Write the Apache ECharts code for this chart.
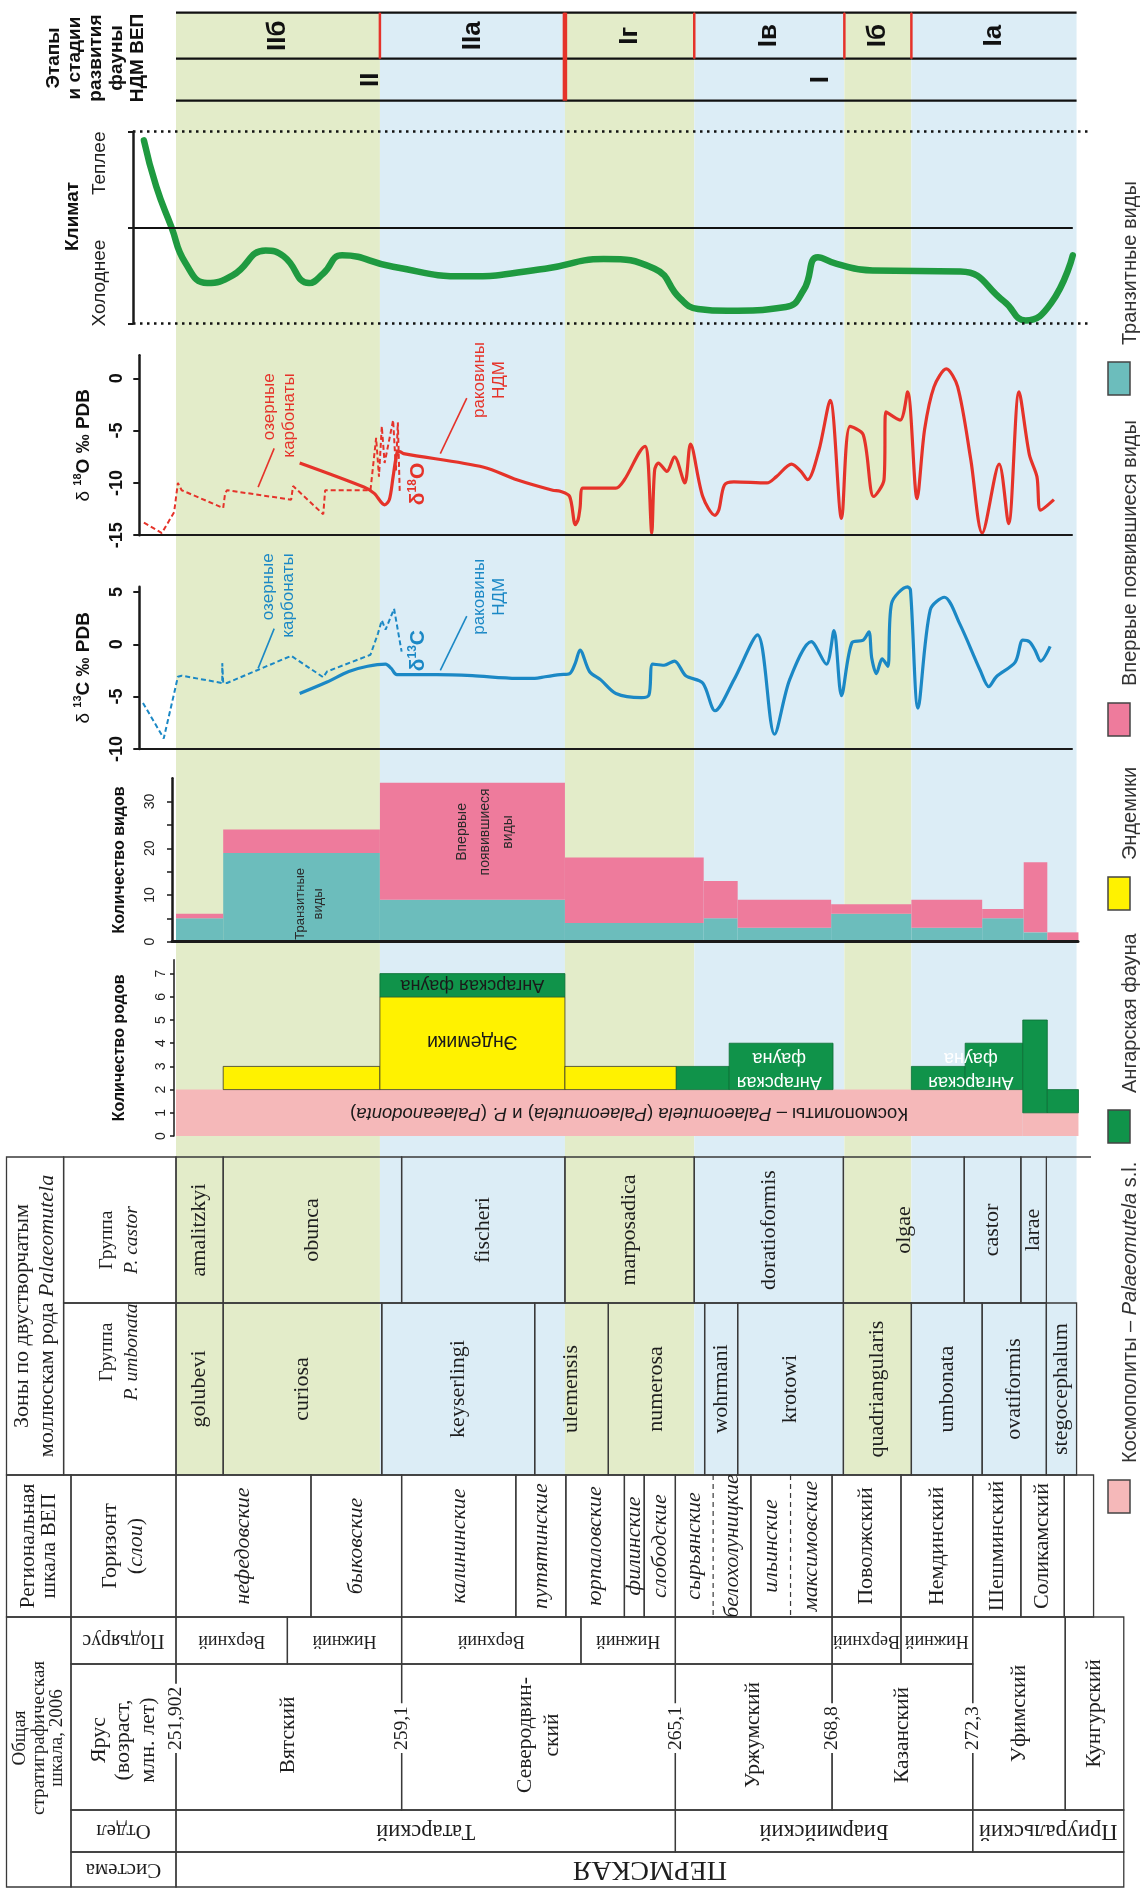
<!DOCTYPE html>
<html lang="ru">
<head>
<meta charset="utf-8">
<title>Этапы развития фауны НДМ ВЕП</title>
<script src="https://cdn.jsdelivr.net/npm/echarts@6.0.0/dist/echarts.min.js"></script>
<style>
  html, body { margin: 0; padding: 0; background: #fff; }
  #chart { width: 1140px; height: 1895px; }
</style>
</head>
<body>
<div id="chart"></div>
<script>
// ================= DATA =================
// Positions along the section are relative units: 0 = top of the Vyatkian (251,902 Ma),
// the stratigraphic scale runs down to ~100 (Kungurian).

// Stages of development of the NDM fauna
const phaseStageNames = ['IIб', 'IIа', 'Iг', 'Iв', 'Iб', 'Iа'];
const phaseStageBounds = [0, 21.6, 41.2, 54.9, 70.8, 77.9, 95.4];
const phaseNames = ['II', 'I'];
const phaseBounds = [0, 41.2, 95.4];

// Climate: [position, relative temperature: -1 colder … 1 warmer]
const climateCurve = [
  [-3.4, 0.91], [-2.1, 0.43], [-0.5, 0.01], [1.0, -0.37], [3.3, -0.58], [6.0, -0.50],
  [9.5, -0.24], [11.4, -0.30], [14.1, -0.58], [15.6, -0.48], [17.6, -0.29], [23.0, -0.41],
  [30.7, -0.51], [39.1, -0.43], [45.3, -0.33], [50.7, -0.43], [53.4, -0.74], [55.3, -0.85],
  [58.4, -0.87], [64.6, -0.83], [66.5, -0.65], [68.0, -0.31], [70.0, -0.38], [73.8, -0.45],
  [83.1, -0.46], [87.7, -0.77], [90.0, -0.97], [92.7, -0.79], [95.0, -0.29]
];

// δ18O ‰ PDB
const d18O_shells = [
  [13.1, -8.1], [19.9, -10.4], [21.0, -11.0], [22.1, -12.1], [22.6, -11.6], [23.0, -9.4],
  [23.4, -7.2], [23.7, -7.0], [24.1, -7.2], [32.6, -8.5], [36.1, -9.7], [39.9, -10.7],
  [40.7, -10.8], [41.7, -11.3], [42.3, -14.0], [42.6, -13.5], [42.8, -12.4], [43.1, -10.5],
  [46.6, -10.5], [47.5, -9.7], [49.7, -6.5], [50.0, -7.8], [50.4, -14.8], [50.7, -8.8],
  [51.1, -8.1], [52.0, -8.9], [52.8, -7.5], [53.9, -10.0], [54.5, -6.3], [55.8, -11.3],
  [57.1, -13.1], [57.5, -12.6], [58.1, -10.2], [59.1, -9.9], [62.6, -10.0], [63.6, -9.4],
  [65.2, -8.2], [66.2, -8.9], [66.9, -9.7], [68.1, -6.9], [69.3, -2.1], [70.5, -13.4],
  [71.4, -4.6], [72.8, -5.4], [73.9, -11.3], [75.0, -9.7], [75.2, -3.2], [76.7, -4.0],
  [77.5, -1.3], [78.5, -11.5], [79.3, -4.9], [80.3, -0.8], [81.6, 0.9], [82.8, -0.8],
  [84.2, -7.8], [85.4, -14.8], [87.2, -8.2], [88.2, -13.9], [89.3, -1.3], [90.4, -7.3],
  [91.2, -9.4], [91.6, -12.6], [93.0, -11.6]
];
const d18O_lake = [
  [-3.4, -13.8], [-1.5, -14.8], [-0.2, -12.8], [0.2, -10.0], [0.6, -10.7], [5.0, -12.4],
  [5.2, -11.0], [5.4, -10.7], [12.2, -11.6], [12.4, -10.3], [15.6, -13.0], [15.8, -10.7],
  [20.6, -10.7], [21.2, -5.7], [21.5, -9.4], [21.8, -4.6], [22.1, -8.1], [23.0, -4.0],
  [23.3, -8.8], [23.5, -4.2], [23.7, -10.8]
];

// δ13C ‰ PDB
const d13C_shells = [
  [13.1, -4.7], [16.0, -3.6], [18.3, -2.6], [20.3, -2.1], [22.2, -1.9], [22.8, -2.3],
  [23.4, -2.9], [27.6, -2.9], [31.4, -3.0], [36.1, -3.25], [38.0, -3.25], [39.1, -3.1],
  [40.7, -2.9], [41.7, -2.8], [42.3, -1.8], [42.8, -0.55], [43.8, -2.6], [45.0, -3.4],
  [46.6, -4.7], [49.3, -5.1], [50.1, -4.85], [50.5, -1.9], [51.7, -2.0], [52.8, -1.6],
  [54.0, -3.0], [55.8, -3.7], [57.1, -6.35], [59.1, -3.4], [61.6, 0.9], [63.4, -8.6],
  [65.0, -3.4], [67.3, 0.25], [68.9, -1.9], [69.7, 1.3], [70.5, -4.9], [71.6, 0.15],
  [72.8, 0.4], [73.4, 1.2], [73.7, -1.3], [74.2, -2.8], [74.8, -1.4], [75.4, -2.1],
  [75.8, 3.9], [77.5, 5.5], [77.8, 5.2], [78.6, -6.1], [79.9, 3.3], [81.4, 4.5],
  [83.0, 2.0], [85.2, -2.5], [86.1, -4.05], [86.9, -3.1], [88.9, -1.7], [89.7, 0.4],
  [90.4, 0.25], [91.0, -0.55], [91.6, -1.6], [92.6, -0.2]
];
const d13C_lake = [
  [-3.5, -5.6], [-1.3, -9.0], [-0.2, -4.7], [0.2, -3.1], [0.6, -3.0], [4.9, -3.7],
  [4.9, -1.8], [5.0, -3.7], [5.4, -3.7], [12.2, -1.1], [15.6, -3.15], [16.0, -2.6],
  [20.6, -1.0], [21.4, 1.05], [21.8, 2.3], [22.2, 1.4], [23.1, 3.4], [23.9, -0.7]
];

// Number of species per interval
const speciesBounds = [0, 5.0, 21.6, 41.2, 55.9, 59.5, 69.4, 77.9, 85.4, 89.8, 92.3, 95.6];
const transitSpecies = [5, 19, 9, 4, 5, 3, 6, 3, 5, 2, 0];
const newSpecies     = [1, 5, 25, 14, 8, 6, 2, 6, 2, 15, 2];

// Number of genera: [from, to, count]
const genusCosmopolitan = [[0, 89.7, 2], [89.7, 95.6, 1]];
const genusEndemic = [[5.0, 21.6, 1], [21.6, 41.2, 4], [41.2, 53.0, 1]];
const genusAngara = [[21.6, 41.2, 1], [53.0, 58.6, 1], [58.6, 69.6, 2], [77.9, 83.6, 1],
                     [83.6, 89.7, 2], [89.7, 92.3, 4], [92.3, 95.6, 1]];

// Bivalve zones (genus Palaeomutela)
const castorZones = [[0, 5.0, 'amalitzkyi'], [5.0, 23.9, 'obunca'], [23.9, 41.2, 'fischeri'],
  [41.2, 54.9, 'marposadica'], [54.9, 70.7, 'doratioformis'], [70.7, 83.5, 'olgae'],
  [83.5, 89.5, 'castor'], [89.5, 92.2, 'larae']];
const umbonataZones = [[0, 5.0, 'golubevi'], [5.0, 21.8, 'curiosa'], [21.8, 38.0, 'keyserlingi'],
  [38.0, 45.8, 'ulemensis'], [45.8, 56.0, 'numerosa'], [56.0, 59.5, 'wohrmani'],
  [59.5, 70.7, 'krotowi'], [70.7, 77.9, 'quadriangularis'], [77.9, 85.4, 'umbonata'],
  [85.4, 92.2, 'ovatiformis'], [92.2, 95.4, 'stegocephalum']];

// Regional scale: horizons (beds)
const horizons = [[0, 14.3, 'нефедовские'], [14.3, 23.9, 'быковские'], [23.9, 36.0, 'калининские'],
  [36.0, 41.3, 'путятинские'], [41.3, 47.5, 'юрпаловские'], [47.5, 49.6, 'филинские'],
  [49.6, 52.9, 'слободские'], [52.9, 56.9, 'сырьянские'], [56.9, 60.9, 'белохолуницкие'],
  [60.9, 65.1, 'ильинские'], [65.1, 69.5, 'максимовские'], [69.5, 76.8, 'Поволжский'],
  [76.8, 84.4, 'Немдинский'], [84.4, 89.5, 'Шешминский'], [89.5, 94.1, 'Соликамский'],
  [94.1, 97.2, '']];
const gradationalBounds = [56.9, 65.1];

// General stratigraphic scale, 2006
const substages = [[0, 11.8, 'Верхний'], [11.8, 23.9, 'Нижний'], [23.9, 42.9, 'Верхний'],
  [42.9, 52.9, 'Нижний'], [52.9, 69.5, ''], [69.5, 76.8, 'Верхний'], [76.8, 84.4, 'Нижний']];
const stagesDivided = [[0, 23.9, 'Вятский'], [23.9, 52.9, 'Северодвин-\nский'],
  [52.9, 69.5, 'Уржумский'], [69.5, 84.4, 'Казанский']];
const stagesUndivided = [[84.4, 94.2, 'Уфимский'], [94.2, 100.4, 'Кунгурский']];
const ageBounds = [[0, '251,902'], [23.9, '259,1'], [52.9, '265,1'], [69.5, '268,8'], [84.4, '272,3']];
const seriesUnits = [[0, 52.9, 'Татарский'], [52.9, 84.4, 'Биармийский'], [84.4, 100.4, 'Приуральский']];
const systemUnits = [[0, 100.4, 'ПЕРМСКАЯ']];

// ================= STYLE & LAYOUT =================
const SANS = '"Liberation Sans", Arial, sans-serif';
const SERIF = '"Liberation Serif", "Times New Roman", serif';
const INK = '#1e1e1e';
const RULE = '#3a3a3a';
const C = {
  bandGreen: '#e3ecc9', bandBlue: '#dcedf6', red: '#e5332a', blue: '#1b88c5',
  climate: '#1f9a40', teal: '#6cbdbc', pink: '#ee7b9c', cosmo: '#f5b8b9',
  yellow: '#fff200', angara: '#10934a'
};
const X0 = 176, PXU = 9.44;           // pixel of position 0 and pixels per unit
const R90 = Math.PI / 2, R180 = Math.PI;

const GRIDS = [
  { key: 'band',    left: 176,   right: 1077, top: 12.7,  bottom: 1475 },
  { key: 'stage',   left: 176,   right: 1077, top: 12.7,  bottom: 100.7 },
  { key: 'climate', left: 133,   right: 1091, top: 131.7, bottom: 323.3 },
  { key: 'o18',     left: 139.3, right: 1072, top: 355.3, bottom: 535.2 },
  { key: 'c13',     left: 139.3, right: 1072, top: 586.8, bottom: 748.9 },
  { key: 'species', left: 172,   right: 1078, top: 778.2, bottom: 941.7 },
  { key: 'genus',   left: 174,   right: 1078, top: 959.7, bottom: 1136 },
  { key: 'table',   left: 6.5,   right: 1124, top: 1157,  bottom: 1887 }
];
const GI = {};
GRIDS.forEach((g, i) => { GI[g.key] = i; });

const STAGE_ROWS = { sub: [0, 46], phase: [46, 88] };
const ROW = { castor: [0, 146], umbonata: [146, 318], horizon: [318, 460], substage: [460, 507],
              stage: [507, 653], dept: [653, 695], system: [695, 730] };
const HEAD = { outer: (6.5 - X0) / PXU, zoneSplit: (63.6 - X0) / PXU, regSplit: (71 - X0) / PXU };
const TABLE_TOP_RULE_END = (1091 - X0) / PXU;
const STAGE_TEXT_Y = 578, AGE_LABEL_Y = 596;

// ================= HELPERS =================
function richSerif(size, lh) {
  return {
    n: { fontFamily: SERIF, fontSize: size, lineHeight: lh, fill: INK },
    i: { fontFamily: SERIF, fontSize: size, lineHeight: lh, fill: INK, fontStyle: 'italic' }
  };
}
function richSans(size, lh, color) {
  return {
    n: { fontFamily: SANS, fontSize: size, lineHeight: lh, fill: color },
    i: { fontFamily: SANS, fontSize: size, lineHeight: lh, fill: color, fontStyle: 'italic' }
  };
}
function stackLayers(layers) {
  return layers.map((segs, li) => segs.map(([a, b, v]) => {
    const mid = (a + b) / 2;
    let base = 0;
    for (let k = 0; k < li; k++) {
      const s = layers[k].find(([p, q]) => mid > p && mid < q);
      if (s) base += s[2];
    }
    return [a, b, base, base + v];
  }));
}
function rectFrom(api, x0, x1, y0, y1) {
  const a = api.coord([x0, y1]), b = api.coord([x1, y0]);
  return { x: Math.min(a[0], b[0]), y: Math.min(a[1], b[1]),
           width: Math.abs(b[0] - a[0]), height: Math.abs(b[1] - a[1]) };
}
function barSeries(gridKey, rects, color, stroke) {
  return {
    type: 'custom', xAxisIndex: GI[gridKey], yAxisIndex: GI[gridKey], silent: true, z: 3,
    data: rects,
    renderItem(params, api) {
      return {
        type: 'rect',
        shape: rectFrom(api, api.value(0), api.value(1), api.value(2), api.value(3)),
        style: { fill: color, stroke: stroke || null, lineWidth: stroke ? 0.8 : 0 }
      };
    }
  };
}
function notesSeries(gridKey, notes) {
  return {
    type: 'custom', xAxisIndex: GI[gridKey], yAxisIndex: GI[gridKey], silent: true, z: 6,
    data: notes.map(n => [n.at[0], n.at[1]]),
    renderItem(params, api) {
      const n = notes[params.dataIndex];
      const p = api.coord(n.at);
      if (n.to) {
        const q = api.coord(n.to);
        return { type: 'line', shape: { x1: p[0], y1: p[1], x2: q[0], y2: q[1] },
                 style: { stroke: n.color, lineWidth: 1.6 } };
      }
      return {
        type: 'text', x: p[0], y: p[1], rotation: n.rot,
        style: {
          text: n.text, rich: n.rich, fill: n.color, fontFamily: SANS, fontSize: n.size,
          fontWeight: n.weight || 'normal', lineHeight: n.lh, align: n.align || 'center',
          verticalAlign: 'middle'
        }
      };
    }
  };
}

// ----- stacked bars -----
const speciesRects = stackLayers([
  transitSpecies.map((v, i) => [speciesBounds[i], speciesBounds[i + 1], v]),
  newSpecies.map((v, i) => [speciesBounds[i], speciesBounds[i + 1], v])
]);
const genusRects = stackLayers([genusCosmopolitan, genusEndemic, genusAngara]);

// ----- stage panel items -----
const stageItems = [];
phaseStageNames.forEach((n, i) => stageItems.push({ row: 'sub', i, name: n, x0: phaseStageBounds[i], x1: phaseStageBounds[i + 1] }));
phaseNames.forEach((n, i) => stageItems.push({ row: 'phase', i, name: n, x0: phaseBounds[i], x1: phaseBounds[i + 1] }));

// ----- table cells -----
const CELL_STYLE = {
  zone:     { size: 22, rot: R90 },
  horizon:  { size: 22, rot: R90 },
  substage: { size: 18, rot: R180 },
  stage:    { size: 21.5, rot: R90, lh: 27 },
  dept:     { size: 22.5, rot: R180 },
  system:   { size: 28, rot: R180 }
};
const tableCells = [];
function addCells(list, row, kind) {
  list.forEach(([a, b, t]) => {
    const st = CELL_STYLE[kind];
    tableCells.push({ x0: a, x1: b, y0: ROW[row][0], y1: ROW[row][1], text: t, size: st.size,
      rot: st.rot, lh: st.lh, italic: kind === 'horizon' && t && t[0] === t[0].toLowerCase(),
      ty: kind === 'stage' ? STAGE_TEXT_Y : null });
  });
}
addCells(castorZones, 'castor', 'zone');
addCells(umbonataZones, 'umbonata', 'zone');
addCells(horizons, 'horizon', 'horizon');
addCells(substages, 'substage', 'substage');
addCells(stagesDivided, 'stage', 'stage');
stagesUndivided.forEach(([a, b, t]) => tableCells.push({ x0: a, x1: b, y0: ROW.substage[0], y1: ROW.stage[1],
  text: t, size: 21.5, rot: R90 }));
addCells(seriesUnits, 'dept', 'dept');
addCells(systemUnits, 'system', 'system');
[
  { x0: HEAD.outer, x1: HEAD.zoneSplit, y0: 0, y1: 318, text: '{n|Зоны по двустворчатым}\n{n|моллюскам рода }{i|Palaeomutela}', rich: richSerif(22, 25), rot: R90 },
  { x0: HEAD.zoneSplit, x1: 0, y0: 0, y1: 146, text: '{n|Группа}\n{i|P. castor}', rich: richSerif(19.5, 25), rot: R90, ty: 83 },
  { x0: HEAD.zoneSplit, x1: 0, y0: 146, y1: 318, text: '{n|Группа}\n{i|P. umbonata}', rich: richSerif(19.5, 25), rot: R90, ty: 195 },
  { x0: HEAD.outer, x1: HEAD.regSplit, y0: 318, y1: 460, text: 'Региональная\nшкала ВЕП', size: 21.5, lh: 21, rot: R90 },
  { x0: HEAD.regSplit, x1: 0, y0: 318, y1: 460, text: '{n|Горизонт}\n{n|(}{i|слои}{n|)}', rich: richSerif(22, 26), rot: R90 },
  { x0: HEAD.outer, x1: HEAD.regSplit, y0: 460, y1: 730, text: 'Общая\nстратиграфическая\nшкала, 2006', size: 19, lh: 18.5, rot: R90, ty: 581 },
  { x0: HEAD.regSplit, x1: 0, y0: 460, y1: 507, text: 'Подъярус', size: 20, rot: R180 },
  { x0: HEAD.regSplit, x1: 0, y0: 507, y1: 653, text: 'Ярус\n(возраст,\nмлн. лет)', size: 22, lh: 24.5, rot: R90, ty: 583 },
  { x0: HEAD.regSplit, x1: 0, y0: 653, y1: 695, text: 'Отдел', size: 21, rot: R180 },
  { x0: HEAD.regSplit, x1: 0, y0: 695, y1: 730, text: 'Система', size: 21, rot: R180 }
].forEach(h => tableCells.push(h));
tableCells.push({ kind: 'rule', x0: castorZones[castorZones.length - 1][1], x1: TABLE_TOP_RULE_END, y0: 0, y1: 0 });
gradationalBounds.forEach(x => tableCells.push({ kind: 'grad', x0: x, x1: x, y0: ROW.horizon[0], y1: ROW.horizon[1] }));
ageBounds.forEach(([x, t]) => tableCells.push({ kind: 'age', x0: x, x1: x, y0: AGE_LABEL_Y, y1: AGE_LABEL_Y, text: t }));

function renderTable(params, api) {
  const c = tableCells[params.dataIndex];
  if (c.kind === 'rule') {
    const p0 = api.coord([c.x0, c.y0]), p1 = api.coord([c.x1, c.y1]);
    return { type: 'line', shape: { x1: p0[0], y1: p0[1], x2: p1[0], y2: p1[1] }, style: { stroke: RULE, lineWidth: 1.3 } };
  }
  if (c.kind === 'grad') {
    const p0 = api.coord([c.x0, c.y0]), p1 = api.coord([c.x0, c.y1]);
    return { type: 'group', children: [
      { type: 'line', shape: { x1: p0[0], y1: p0[1] + 1, x2: p1[0], y2: p1[1] - 1 }, style: { stroke: '#fff', lineWidth: 3 } },
      { type: 'line', shape: { x1: p0[0], y1: p0[1], x2: p1[0], y2: p1[1] }, style: { stroke: RULE, lineWidth: 1.2, lineDash: [5, 4] } }
    ] };
  }
  if (c.kind === 'age') {
    const p = api.coord([c.x0, AGE_LABEL_Y]);
    return { type: 'text', x: p[0], y: p[1], rotation: R90,
      style: { text: c.text, fontFamily: SERIF, fontSize: 19.5, fill: INK, align: 'left',
               verticalAlign: 'middle', backgroundColor: '#fff', padding: [0, 3] } };
  }
  const p0 = api.coord([c.x0, c.y0]), p1 = api.coord([c.x1, c.y1]);
  const kids = [{ type: 'rect',
    shape: { x: p0[0], y: p0[1], width: p1[0] - p0[0], height: p1[1] - p0[1] },
    style: { fill: null, stroke: RULE, lineWidth: 1.3 } }];
  if (c.text) {
    const cy = c.ty != null ? api.coord([0, c.ty])[1] : (p0[1] + p1[1]) / 2;
    kids.push({ type: 'text', x: (p0[0] + p1[0]) / 2, y: cy, rotation: c.rot,
      style: { text: c.text, rich: c.rich, fill: INK, fontFamily: SERIF, fontSize: c.size || 20,
               fontStyle: c.italic ? 'italic' : 'normal', lineHeight: c.lh, align: 'center',
               verticalAlign: 'middle' } });
  }
  return { type: 'group', children: kids };
}

function renderStage(params, api) {
  const s = stageItems[params.dataIndex];
  const rows = STAGE_ROWS[s.row];
  const a = api.coord([s.x0, rows[0]]), b = api.coord([s.x1, rows[1]]);
  const kids = [];
  const hl = (y) => ({ type: 'line', shape: { x1: a[0], y1: y, x2: b[0], y2: y }, style: { stroke: '#111', lineWidth: 2.2 } });
  if (s.row === 'sub') kids.push(hl(a[1]));
  kids.push(hl(b[1]));
  if (s.i > 0) {
    const top = s.row === 'sub' ? a[1] : api.coord([0, STAGE_ROWS.sub[0]])[1];
    kids.push({ type: 'line', shape: { x1: a[0], y1: top, x2: a[0], y2: b[1] },
      style: { stroke: C.red, lineWidth: s.row === 'sub' ? 2.5 : 4.5 } });
  }
  kids.push({ type: 'text', x: (a[0] + b[0]) / 2, y: (a[1] + b[1]) / 2, rotation: R90,
    style: { text: s.name, fontFamily: SANS, fontWeight: 'bold', fontSize: 26, fill: '#111',
             align: 'center', verticalAlign: 'middle' } });
  return { type: 'group', children: kids };
}

function renderBand(params, api) {
  const i = params.dataIndex;
  return { type: 'rect', shape: rectFrom(api, phaseStageBounds[i], phaseStageBounds[i + 1], 0, 1),
           style: { fill: i % 2 === 0 ? C.bandGreen : C.bandBlue } };
}

// ----- annotations -----
const o18Notes = [
  { at: [10.9, 0.48], text: 'озерные\nкарбонаты', color: C.red, size: 17, lh: 20, rot: R90, align: 'right' },
  { at: [10.4, -6.7], to: [8.7, -10.4], color: C.red },
  { at: [33.2, -0.16], text: 'раковины\nНДМ', color: C.red, size: 17, lh: 20, rot: R90 },
  { at: [30.8, -1.9], to: [28.0, -7.2], color: C.red },
  { at: [25.7, -10.1], text: '{a|δ}{s|18}{a|O}', color: C.red, rot: R90,
    rich: { a: { fontFamily: SANS, fontSize: 21, fontWeight: 'bold', fill: C.red, lineHeight: 24 },
            s: { fontFamily: SANS, fontSize: 12, fontWeight: 'bold', fill: C.red, verticalAlign: 'top' } } }
];
const c13Notes = [
  { at: [10.8, 8.7], text: 'озерные\nкарбонаты', color: C.blue, size: 17, lh: 20, rot: R90, align: 'right' },
  { at: [10.4, 1.5], to: [8.7, -2.3], color: C.blue },
  { at: [33.2, 4.55], text: 'раковины\nНДМ', color: C.blue, size: 17, lh: 20, rot: R90 },
  { at: [30.8, 2.7], to: [28.0, -2.5], color: C.blue },
  { at: [25.7, -0.6], text: '{a|δ}{s|13}{a|C}', color: C.blue, rot: R90,
    rich: { a: { fontFamily: SANS, fontSize: 21, fontWeight: 'bold', fill: C.blue, lineHeight: 24 },
            s: { fontFamily: SANS, fontSize: 12, fontWeight: 'bold', fill: C.blue, verticalAlign: 'top' } } }
];
const speciesNotes = [
  { at: [14.1, 8.1], text: 'Транзитные\nвиды', color: '#2a2a2a', size: 13, lh: 18, rot: R90 },
  { at: [32.8, 23.5], text: 'Впервые\nпоявившиеся\nвиды', color: '#2a2a2a', size: 14, lh: 23, rot: R90 }
];
const genusNotes = [
  { at: [31.4, 6.5], text: 'Ангарская фауна', color: '#1a1a1a', size: 18, rot: R180 },
  { at: [31.4, 4.1], text: 'Эндемики', color: '#1a1a1a', size: 19.5, rot: R180 },
  { at: [63.9, 2.85], text: 'Ангарская\nфауна', color: '#ffffff', size: 18, lh: 24, rot: R180 },
  { at: [84.2, 2.85], text: 'Ангарская\nфауна', color: '#ffffff', size: 18, lh: 24, rot: R180 },
  { at: [48.0, 1.0], rot: R180, color: '#1a1a1a',
    text: '{n|Космополиты – }{i|Palaeomutela}{n| (}{i|Palaeomutela}{n|) и }{i|P.}{n| (}{i|Palaeanodonta}{n|)}',
    rich: richSans(18.5, 20, '#1a1a1a') }
];

// ----- legend -----
const legendItems = [
  { text: 'Транзитные виды', color: C.teal, top: 362 },
  { text: 'Впервые появившиеся виды', color: C.pink, top: 703 },
  { text: 'Эндемики', color: C.yellow, top: 877 },
  { text: 'Ангарская фауна', color: C.angara, top: 1110 },
  { text: '{n|Космополиты – }{i|Palaeomutela}{n| s.l.}', rich: richSans(20, 22, '#333'), color: C.cosmo, top: 1480 }
];
const graphic = [];
legendItems.forEach(it => {
  graphic.push({ type: 'rect', shape: { x: 1108, y: it.top, width: 22, height: 33 },
    style: { fill: it.color, stroke: '#444', lineWidth: 1.5 } });
  graphic.push({ type: 'text', x: 1130, y: it.top - 17, rotation: R90,
    style: { text: it.text, rich: it.rich, fontFamily: SANS, fontSize: 20, fill: '#333',
             align: 'left', verticalAlign: 'middle' } });
});
graphic.push({ type: 'text', x: 96, y: 58, rotation: R90,
  style: { text: 'Этапы\nи стадии\nразвития\nфауны\nНДМ ВЕП', fontFamily: SANS, fontWeight: 'bold',
           fontSize: 19, lineHeight: 21, fill: '#111', align: 'center', verticalAlign: 'middle' } });

// ================= OPTION =================
const grid = GRIDS.map(g => ({ left: g.left, top: g.top, width: g.right - g.left, height: g.bottom - g.top, outerBoundsMode: 'none' }));
const xAxis = GRIDS.map((g, i) => {
  const ax = { gridIndex: i, type: 'value', min: (g.left - X0) / PXU, max: (g.right - X0) / PXU,
               show: false, splitLine: { show: false } };
  if (g.key === 'o18' || g.key === 'c13' || g.key === 'species') {
    Object.assign(ax, { show: true, z: 10, axisTick: { show: false }, axisLabel: { show: false },
      axisLine: { show: true, onZero: false, lineStyle: { color: '#1a1a1a', width: g.key === 'species' ? 3 : 2 } } });
  }
  return ax;
});
const valueAxisBase = (i, min, max) => ({
  gridIndex: i, type: 'value', min, max, splitLine: { show: false }, z: 10,
  axisLine: { show: true, onZero: false, lineStyle: { color: '#1a1a1a', width: 2.5 } },
  axisTick: { show: true, length: 6, lineStyle: { color: '#1a1a1a', width: 2 } }
});
const deltaAxis = (i, min, max, ticks, nameRich) => Object.assign(valueAxisBase(i, min, max), {
  axisTick: { show: true, length: 6, customValues: ticks, lineStyle: { color: '#1a1a1a', width: 2 } },
  axisLabel: { customValues: ticks, rotate: 90, margin: 13, fontFamily: SANS, fontWeight: 'bold', fontSize: 18, color: '#111' },
  name: nameRich, nameLocation: 'middle', nameRotate: 90, nameGap: 45,
  nameTextStyle: { fontFamily: SANS, fontWeight: 'bold', fontSize: 19, color: '#111',
    rich: { a: { fontFamily: SANS, fontSize: 19, fontWeight: 'normal', color: '#111', lineHeight: 22 },
            b: { fontFamily: SANS, fontSize: 19, fontWeight: 'bold', color: '#111', lineHeight: 22 },
            s: { fontFamily: SANS, fontSize: 11, fontWeight: 'bold', color: '#111', verticalAlign: 'top' } } }
});
const yAxis = [
  { gridIndex: GI.band, type: 'value', min: 0, max: 1, show: false },
  { gridIndex: GI.stage, type: 'value', min: 0, max: 88, inverse: true, show: false },
  Object.assign(valueAxisBase(GI.climate, -1, 1), {
    axisTick: { show: true, length: 5, customValues: [-1, 0, 1], lineStyle: { color: '#1a1a1a', width: 2 } },
    axisLabel: { customValues: [0.67, -0.58], formatter: v => (v > 0 ? 'Теплее' : 'Холоднее'),
                 rotate: 90, margin: 24, fontFamily: SANS, fontSize: 19, color: '#222' },
    name: 'Климат', nameLocation: 'middle', nameRotate: 90, nameGap: 43,
    nameTextStyle: { fontFamily: SANS, fontWeight: 'bold', fontSize: 19, color: '#111', padding: [0, 0, 0, 22] }
  }),
  deltaAxis(GI.o18, -15, 2.2, [-15, -10, -5, 0], '{a|δ }{s|18}{b|O ‰ PDB}'),
  deltaAxis(GI.c13, -10, 5.5, [-10, -5, 0, 5], '{a|δ }{s|13}{b|C ‰ PDB}'),
  Object.assign(valueAxisBase(GI.species, 0, 35), {
    axisTick: { show: true, length: 5, customValues: [0, 5, 10, 15, 20, 25, 30], lineStyle: { color: '#1a1a1a', width: 1.5 } },
    axisLabel: { customValues: [0, 10, 20, 30], rotate: 90, margin: 15, fontFamily: SANS, fontSize: 14, color: '#222' },
    name: 'Количество видов', nameLocation: 'middle', nameRotate: 90, nameGap: 44,
    nameTextStyle: { fontFamily: SANS, fontWeight: 'bold', fontSize: 16, color: '#111' }
  }),
  Object.assign(valueAxisBase(GI.genus, 0, 7.6), {
    axisLine: { show: true, onZero: false, lineStyle: { color: '#1a1a1a', width: 1.5 } },
    axisTick: { show: true, length: 4, customValues: [0, 1, 2, 3, 4, 5, 6, 7], lineStyle: { color: '#1a1a1a', width: 1.5 } },
    axisLabel: { customValues: [0, 1, 2, 3, 4, 5, 6, 7], rotate: 90, margin: 6, fontFamily: SANS, fontSize: 14, color: '#222' },
    name: 'Количество родов', nameLocation: 'middle', nameRotate: 90, nameGap: 46,
    nameTextStyle: { fontFamily: SANS, fontWeight: 'bold', fontSize: 16, color: '#111' }
  }),
  { gridIndex: GI.table, type: 'value', min: 0, max: 730, inverse: true, show: false }
];

const climateMin = xAxis[GI.climate].min;
const dotted = { type: [2.5, 4.5], width: 2.5, color: '#111' };

const series = [
  { type: 'custom', xAxisIndex: GI.band, yAxisIndex: GI.band, silent: true, z: -1,
    data: phaseStageNames.map((n, i) => [phaseStageBounds[i], 0]), renderItem: renderBand },
  { type: 'custom', xAxisIndex: GI.stage, yAxisIndex: GI.stage, silent: true, z: 4,
    data: stageItems.map(s => [s.x0, 0]), renderItem: renderStage },
  { type: 'line', xAxisIndex: GI.climate, yAxisIndex: GI.climate, data: climateCurve, smooth: 0.5,
    symbol: 'none', clip: false, z: 4, lineStyle: { color: C.climate, width: 6.5, cap: 'round', join: 'round' },
    markLine: { silent: true, symbol: 'none', label: { show: false }, animation: false,
      data: [
        { yAxis: 1, lineStyle: dotted },
        { yAxis: -1, lineStyle: dotted },
        [{ coord: [climateMin, 0], lineStyle: { type: 'solid', width: 2, color: '#111' } },
         { coord: [95.0, 0], lineStyle: { type: 'solid', width: 2, color: '#111' } }]
      ] } },
  { type: 'line', xAxisIndex: GI.o18, yAxisIndex: GI.o18, data: d18O_lake, symbol: 'none', clip: false, z: 4,
    lineStyle: { color: C.red, width: 2, type: [5, 3] } },
  { type: 'line', xAxisIndex: GI.o18, yAxisIndex: GI.o18, data: d18O_shells, symbol: 'none', clip: false, z: 4,
    smooth: 0.3, lineStyle: { color: C.red, width: 3.2 } },
  notesSeries('o18', o18Notes),
  { type: 'line', xAxisIndex: GI.c13, yAxisIndex: GI.c13, data: d13C_lake, symbol: 'none', clip: false, z: 4,
    lineStyle: { color: C.blue, width: 2, type: [5, 3] } },
  { type: 'line', xAxisIndex: GI.c13, yAxisIndex: GI.c13, data: d13C_shells, symbol: 'none', clip: false, z: 4,
    smooth: 0.3, lineStyle: { color: C.blue, width: 3.2 } },
  notesSeries('c13', c13Notes),
  barSeries('species', speciesRects[0], C.teal),
  barSeries('species', speciesRects[1], C.pink),
  notesSeries('species', speciesNotes),
  barSeries('genus', genusRects[0], C.cosmo),
  barSeries('genus', genusRects[1], C.yellow, '#3a3a2a'),
  barSeries('genus', genusRects[2], C.angara, '#0b6e35'),
  notesSeries('genus', genusNotes),
  { type: 'custom', xAxisIndex: GI.table, yAxisIndex: GI.table, silent: true, z: 5,
    data: tableCells.map(c => [c.x0, c.y0]), renderItem: renderTable }
];

const chart = echarts.init(document.getElementById('chart'), null, { renderer: 'canvas', width: 1140, height: 1895 });
chart.setOption({
  backgroundColor: '#ffffff',
  animation: false,
  grid, xAxis, yAxis, series, graphic
});
</script>
</body>
</html>
